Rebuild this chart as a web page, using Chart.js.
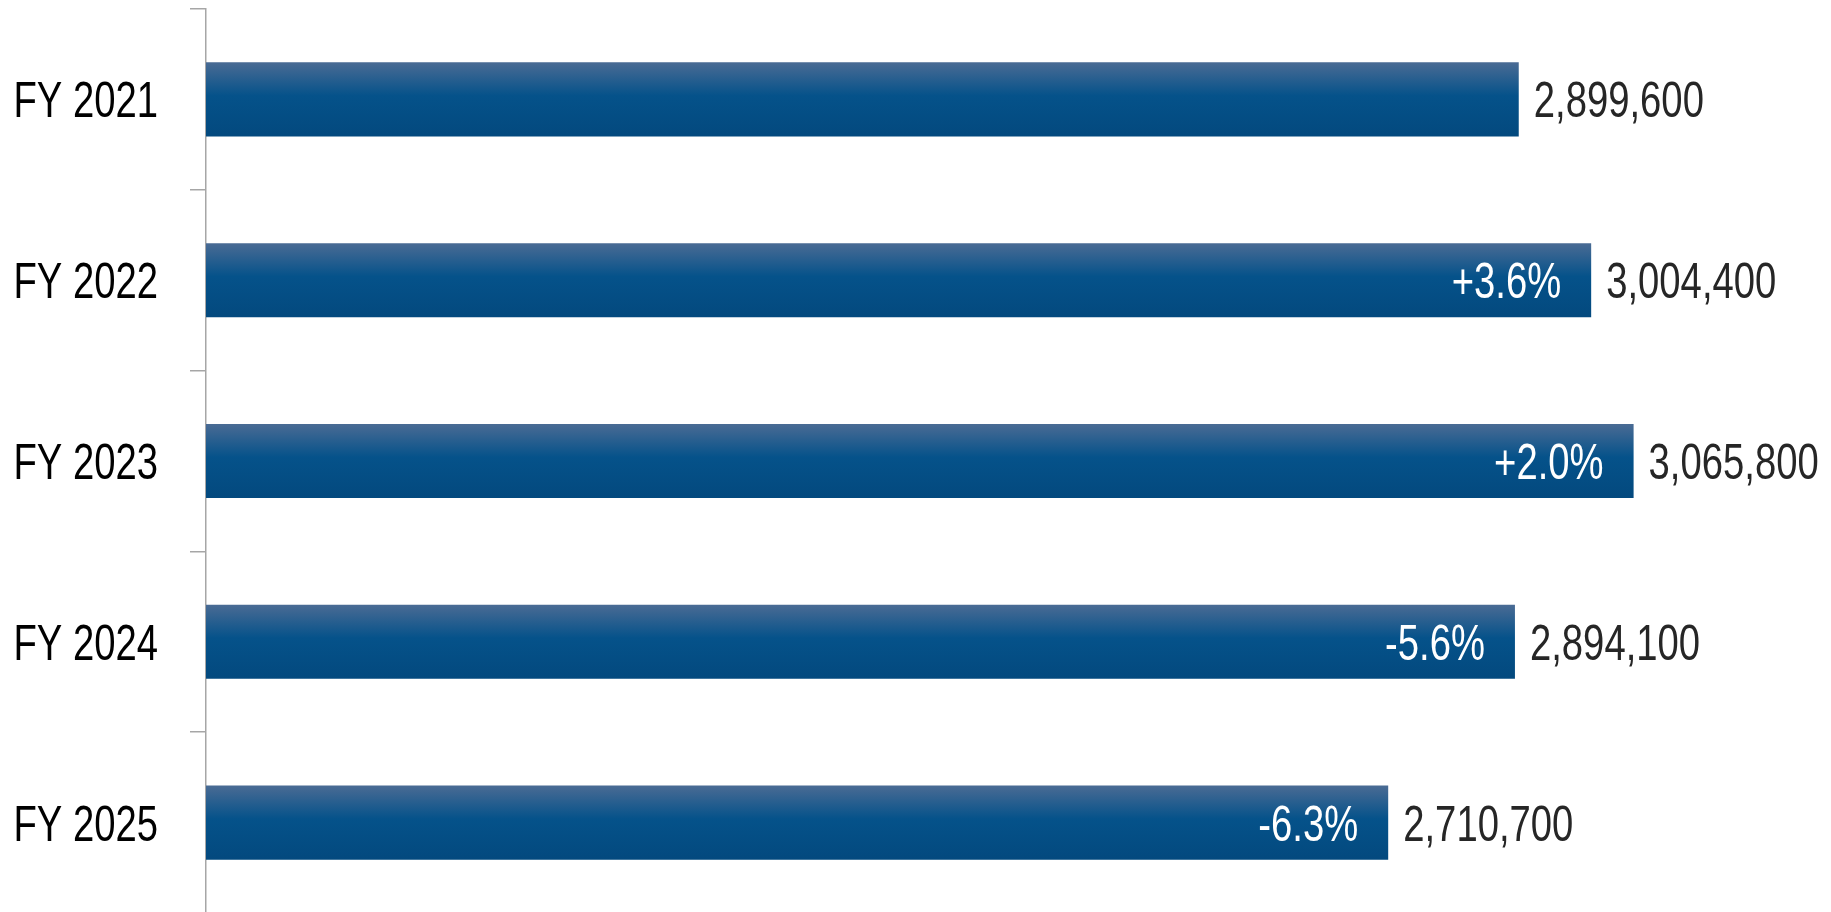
<!DOCTYPE html>
<html>
<head>
<meta charset="utf-8">
<script src="https://cdn.jsdelivr.net/npm/chart.js@4"></script>
<style>
    html, body { margin: 0; padding: 0; background: #fff; overflow: hidden; }
    #wrap { position: relative; width: 1831px; height: 916px; }
</style>
</head>
<body>
<div id="wrap"><canvas id="chart"></canvas></div>
<script>
const categories = ["FY 2021", "FY 2022", "FY 2023", "FY 2024", "FY 2025"];
const totals     = [2899600, 3004400, 3065800, 2894100, 2710700];
const changes    = ["", "+3.6%", "+2.0%", "-5.6%", "-6.3%"];

const FONT_SIZE = 50;
const SQUEEZE = 0.765; // reference uses a condensed face; squeeze Liberation Sans
const FONT = FONT_SIZE + "px 'Liberation Sans', Arial, sans-serif";

// condensed text helper
function narrowText(ctx, text, x, y, align, color) {
    ctx.save();
    ctx.font = FONT;
    ctx.fillStyle = color;
    ctx.textAlign = align;
    ctx.textBaseline = "alphabetic";
    ctx.translate(x, y);
    ctx.scale(SQUEEZE, 1);
    ctx.fillText(text, 0, 0);
    ctx.restore();
}

// vertical gradient per bar
const barGradient = {
    id: "barGradient",
    beforeDatasetsDraw(chart) {
        const ctx = chart.ctx;
        chart.getDatasetMeta(0).data.forEach(bar => {
            const top = bar.y - bar.height / 2;
            const g = ctx.createLinearGradient(0, top, 0, top + bar.height);
            g.addColorStop(0, "#4a6b94");
            g.addColorStop(0.45, "#05528a");
            g.addColorStop(1, "#03497e");
            bar.options = Object.assign({}, bar.options, { backgroundColor: g });
        });
    }
};

// category labels, value labels right of the bar, % change inside the bar
const barLabels = {
    id: "barLabels",
    afterDatasetsDraw(chart) {
        const ctx = chart.ctx;
        const capShift = FONT_SIZE * 0.358;
        chart.getDatasetMeta(0).data.forEach((bar, i) => {
            const base = bar.y + capShift;
            narrowText(ctx, categories[i], 158, base, "right", "#000000");
            narrowText(ctx, totals[i].toLocaleString("en-US"), bar.x + 15, base, "left", "#262626");
            if (changes[i]) {
                narrowText(ctx, changes[i], bar.x - 30, base, "right", "#ffffff");
            }
        });
    }
};

new Chart(document.getElementById("chart"), {
    type: "bar",
    data: {
        labels: categories,
        datasets: [{
            data: totals,
            backgroundColor: "#05528a",
            borderWidth: 0,
            categoryPercentage: 1,
            barPercentage: 0.41
        }]
    },
    options: {
        indexAxis: "y",
        responsive: true,
        maintainAspectRatio: false,
        animation: false,
        layout: { padding: { top: 9, bottom: 3, left: 0, right: 1 } },
        plugins: {
            legend: { display: false },
            tooltip: { enabled: false }
        },
        scales: {
            x: {
                display: false,
                min: 1000000,
                max: 3350000
            },
            y: {
                afterFit: scale => { scale.width = 206; },
                border: { display: true, color: "#a6a6a6", width: 1.5 },
                grid: {
                    offset: true,
                    drawOnChartArea: false,
                    drawTicks: true,
                    tickLength: 16,
                    color: "#a6a6a6",
                    lineWidth: 1.5
                },
                ticks: { display: false }
            }
        }
    },
    plugins: [barGradient, barLabels]
});
</script>
</body>
</html>
